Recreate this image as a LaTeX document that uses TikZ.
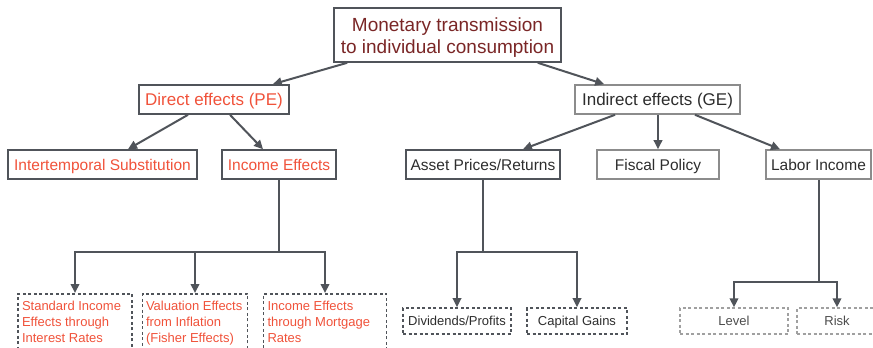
\documentclass[tikz,border=0pt]{standalone}
\usepackage{fontspec}
\setmainfont{Liberation Sans}
\usetikzlibrary{arrows.meta}
\definecolor{redtxt}{RGB}{240,82,58}
\definecolor{maroon}{RGB}{122,38,38}
\definecolor{darkline}{RGB}{80,84,90}
\definecolor{lightline}{RGB}{140,140,140}
\definecolor{paleline}{RGB}{160,160,160}
\definecolor{graytxt}{RGB}{45,45,45}
\tikzset{
  box/.style={draw=darkline, line width=1.6pt, inner sep=0pt, align=center},
  lbox/.style={draw=lightline, line width=1.6pt, inner sep=0pt, align=center, text=graytxt},
  dbox/.style={draw=darkline, line width=1.7pt, dash pattern=on 3pt off 2.5pt, inner sep=0pt, align=center},
  ldbox/.style={draw=paleline, line width=1.4pt, dash pattern=on 3pt off 2.5pt, inner sep=0pt, align=center, text=graytxt!85},
  conn/.style={draw=darkline, line width=2pt, -{Triangle[length=9pt,width=8.5pt]}},
  plain/.style={draw=darkline, line width=2pt},
  lvtwo/.style={font=\fontsize{17}{20}\selectfont, minimum height=29pt, text height=12.2pt, text depth=0pt},
  lvthree/.style={font=\fontsize{15.5}{18}\selectfont, minimum height=29pt, text height=11.1pt, text depth=0pt},
  lvfour/.style={font=\fontsize{13}{16}\selectfont},
  lvfours/.style={font=\fontsize{13}{16}\selectfont, text height=9.3pt, text depth=0pt},
}
\begin{document}
\begin{tikzpicture}[x=1pt,y=-1pt]
\useasboundingbox (0,0) rectangle (873,348);
\node[box, text=maroon, font=\fontsize{19}{22.5}\selectfont] (top) at (447.5,35)
  {\parbox[c][54pt][c]{227pt}{\centering\vspace*{5pt}Monetary transmission\\to individual consumption}};
\node[box, lvtwo, text=redtxt, minimum width=150pt] (direct) at (214,99.5) {Direct effects (PE)};
\node[lbox, lvtwo, minimum width=165pt] (indirect) at (657.5,99.5) {Indirect effects (GE)};
\node[box, lvthree, text=redtxt, minimum width=189pt] (inter) at (102.5,164.5) {Intertemporal Substitution};
\node[box, lvthree, text=redtxt, minimum width=114pt] (income) at (279,164.5) {Income Effects};
\node[box, lvthree, text=graytxt, minimum width=154pt] (asset) at (483,164.5) {Asset Prices/Returns};
\node[lbox, lvthree, minimum width=122pt] (fiscal) at (658,164.5) {Fiscal Policy};
\node[lbox, lvthree, minimum width=105pt] (labor) at (818.5,164.5) {Labor Income};

\node[dbox, lvfour, text=redtxt, anchor=north, inner xsep=4pt, inner ysep=7pt] (std) at (75,293)
  {\parbox[c][46pt][t]{106pt}{\raggedright Standard Income\\Effects through\\Interest Rates}};
\node[dbox, lvfour, text=redtxt, anchor=north, inner xsep=3.5pt, inner ysep=7pt] (val) at (195,293)
  {\parbox[c][46pt][t]{98pt}{\raggedright Valuation Effects\\from Inflation\\(Fisher Effects)}};
\node[dbox, lvfour, text=redtxt, anchor=north, inner xsep=4pt, inner ysep=7pt] (mort) at (325,293)
  {\parbox[c][46pt][t]{115pt}{\raggedright Income Effects\\through Mortgage\\Rates}};

\node[dbox, lvfours, text=graytxt, minimum width=108pt, minimum height=26pt] (div) at (457,321) {Dividends/Profits};
\node[dbox, lvfours, text=graytxt, minimum width=100pt, minimum height=26pt] (cap) at (577,321) {Capital Gains};
\node[ldbox, lvfours, minimum width=108pt, minimum height=26pt] (level) at (734,321) {Level};
\node[ldbox, lvfours, minimum width=80pt, minimum height=26pt] (risk) at (837,321) {Risk};

\draw[conn] ([xshift=14pt]top.south west) -- ([xshift=-17pt]direct.north east);
\draw[conn] ([xshift=-24pt]top.south east) -- ([xshift=30pt]indirect.north west);
\draw[conn] ([xshift=-26pt]direct.south) -- ([xshift=25.5pt]inter.north);
\draw[conn] ([xshift=16pt]direct.south) -- ([xshift=-16pt]income.north);
\draw[conn] ([xshift=-42.5pt]indirect.south) -- ([xshift=40pt]asset.north);
\draw[conn] (fiscal.north |- indirect.south) -- (fiscal.north);
\draw[conn] ([xshift=37.5pt]indirect.south) -- ([xshift=-38.5pt]labor.north);

\coordinate (j1) at (279,252);
\coordinate (j2) at (483,252);
\coordinate (j3) at (819,282);
\draw[plain] (income.south) -- (j1);
\draw[conn] (j1) -| (std.north);
\draw[conn] (j1) -| (val.north);
\draw[conn] (j1) -| (mort.north);
\draw[plain] (asset.south) -- (j2);
\draw[conn] (j2) -| (div.north);
\draw[conn] (j2) -| (cap.north);
\draw[plain] (j3 |- labor.south) -- (j3);
\draw[conn] (j3) -| (level.north);
\draw[conn] (j3) -| (risk.north);
\end{tikzpicture}
\end{document}
